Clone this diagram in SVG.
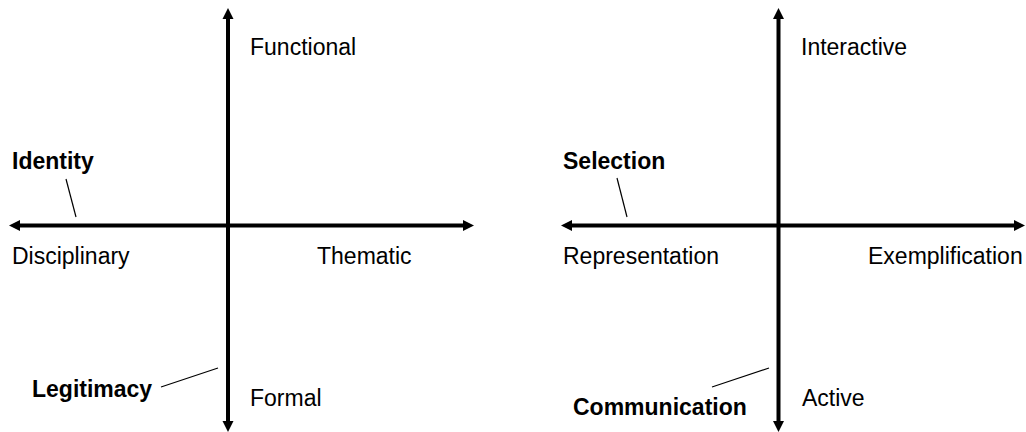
<svg xmlns="http://www.w3.org/2000/svg" width="1026" height="432" viewBox="0 0 1026 432">
<style>
.t{font-family:"Liberation Sans",Arial,sans-serif;font-size:23px;fill:#000}
.b{font-weight:bold}
.ax{stroke:#000;stroke-width:4;fill:none}
.ld{stroke:#000;stroke-width:1.2;fill:none}
.ah{fill:#000}
</style>
<rect width="1026" height="432" fill="#fff"/>
<g id="connectors">
<line class="ax" x1="228" y1="17" x2="228" y2="423"/>
<polygon class="ah" points="228,8 222.5,19 233.5,19"/>
<polygon class="ah" points="228,432 222.5,421 233.5,421"/>
<line class="ax" x1="18" y1="225.5" x2="465" y2="225.5"/>
<polygon class="ah" points="9,225.5 20,220 20,231"/>
<polygon class="ah" points="474,225.5 463,220 463,231"/>
<line class="ld" x1="66" y1="179" x2="76" y2="217"/>
<line class="ld" x1="161" y1="387" x2="218" y2="368"/>
<line class="ax" x1="778.5" y1="17" x2="778.5" y2="423"/>
<polygon class="ah" points="778.5,8 773,19 784,19"/>
<polygon class="ah" points="778.5,432 773,421 784,421"/>
<line class="ax" x1="570" y1="225.5" x2="1016" y2="225.5"/>
<polygon class="ah" points="561,225.5 572,220 572,231"/>
<polygon class="ah" points="1025,225.5 1014,220 1014,231"/>
<line class="ld" x1="617" y1="178" x2="627" y2="217"/>
<line class="ld" x1="712" y1="387" x2="769" y2="368"/>
</g>
<g id="functional"><text class="t" x="250" y="55">Functional</text></g>
<g id="identity"><text class="t b" x="12" y="169">Identity</text></g>
<g id="disciplinary"><text class="t" x="12" y="264">Disciplinary</text></g>
<g id="thematic"><text class="t" x="317" y="264">Thematic</text></g>
<g id="legitimacy"><text class="t b" x="32" y="397">Legitimacy</text></g>
<g id="formal"><text class="t" x="250" y="406">Formal</text></g>
<g id="interactive"><text class="t" x="801" y="55">Interactive</text></g>
<g id="selection"><text class="t b" x="563" y="169">Selection</text></g>
<g id="representation"><text class="t" x="563" y="264">Representation</text></g>
<g id="exemplification"><text class="t" x="868" y="264">Exemplification</text></g>
<g id="communication"><text class="t b" x="573" y="415">Communication</text></g>
<g id="active"><text class="t" x="802" y="406">Active</text></g>
</svg>
